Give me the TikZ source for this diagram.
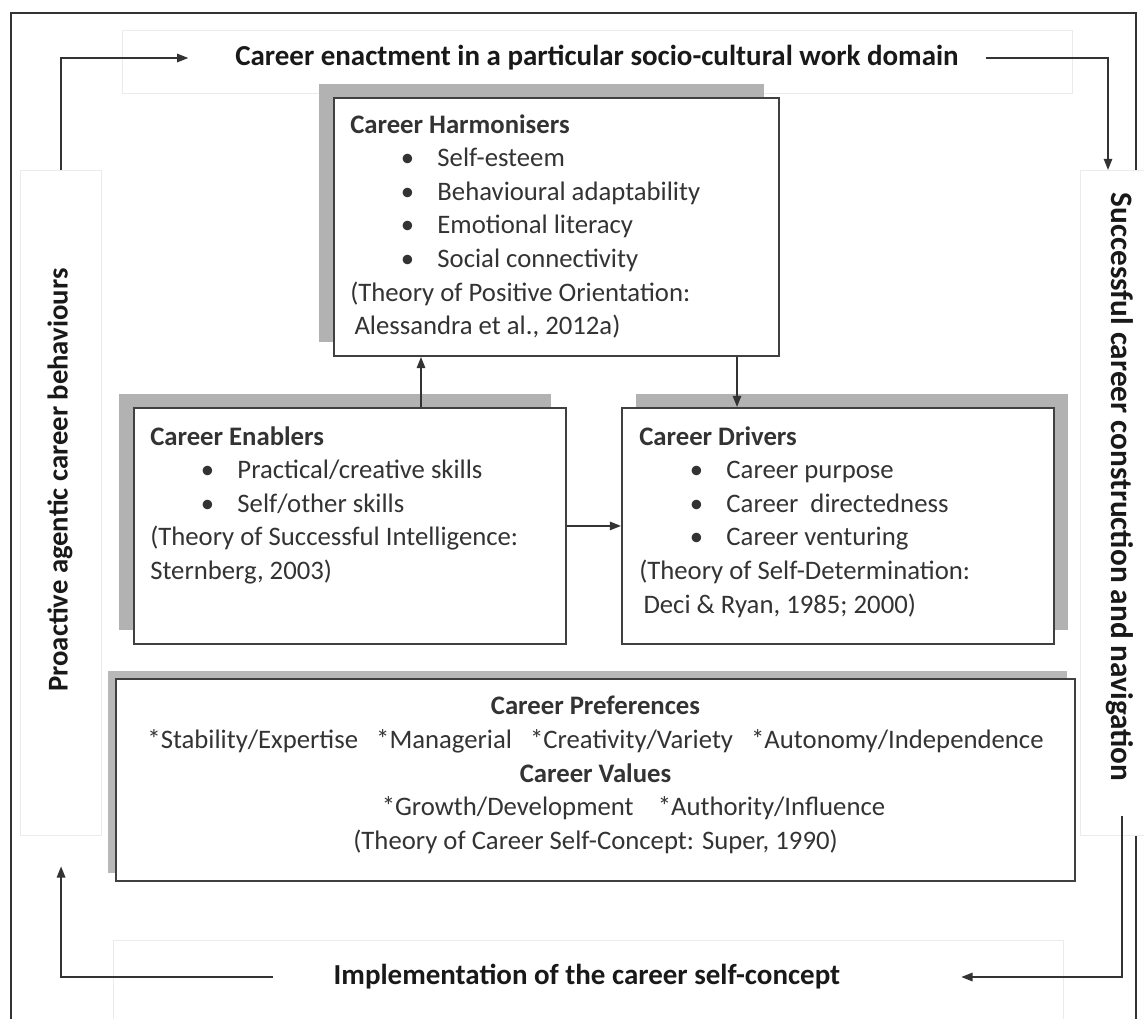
\documentclass[tikz,border=0pt]{standalone}
\usepackage{fontspec}
\setmainfont{Carlito}
\usetikzlibrary{positioning,arrows.meta,shadows,calc}

\newcommand{\bul}[1]{\hspace*{36pt}\makebox[26pt][l]{\textbullet}#1}

\begin{document}
\begin{tikzpicture}[
  x=0.025cm, y=-0.025cm,
  font=\fontsize{19}{23.9}\selectfont,
  card/.style={draw=black!75, line width=1.3pt, fill=white, anchor=north west,
               inner sep=0pt},
  shadowL/.style={drop shadow={shadow xshift=-0.37cm, shadow yshift=0.35cm,
                  fill=black!30, opacity=1}},
  shadowR/.style={drop shadow={shadow xshift=0.35cm, shadow yshift=0.35cm,
                  fill=black!30, opacity=1}},
  note/.style={anchor=north west, align=left, inner sep=0pt, text=black!80},
  faint/.style={draw=black!8, line width=0.8pt, fill=white, anchor=north west,
                inner sep=0pt},
  side/.style={text=black!90},
  arr/.style={-{Triangle[length=8pt,width=6pt]}, line width=1.2pt, draw=black!80}
]
  \useasboundingbox (0,0) rectangle (1144,1019);

  % outer frame, open at the bottom
  \draw[black!80, line width=1.2pt] (11,1040) -- (11,13) -- (1136,13) -- (1136,1040);

  % faint text boxes round the border labels
  \node[faint, minimum width=23.75cm, minimum height=1.575cm] (enact) at (122,30) {};
  \node[faint, minimum width=2.025cm, minimum height=16.625cm] (proact) at (20,170) {};
  \node[faint, minimum width=2cm, minimum height=16.625cm] (succ) at (1080,170) {};
  \node[faint, minimum width=23.75cm, minimum height=2.5cm] (impl) at (113,940) {};

  \node[side, font=\fontsize{20.6}{24}\selectfont\bfseries] (enact-txt) at (597,58)
    {Career enactment in a particular socio-cultural work domain};
  \node[side, rotate=90, font=\fontsize{20.4}{24}\selectfont\bfseries] (proact-txt) at (60,480)
    {Proactive agentic career behaviours};
  \node[side, rotate=-90, font=\fontsize{22.2}{26}\selectfont\bfseries] (succ-txt) at (1120,487)
    {Successful career construction and navigation};
  \node[side, font=\fontsize{20.6}{24}\selectfont\bfseries] (impl-txt) at (587,977)
    {Implementation of the career self-concept};

  % the four boxes
  \node[card, shadowL, minimum width=11.125cm, minimum height=6.45cm] (harm) at (333,97) {};
  \node[card, shadowL, minimum width=10.8cm, minimum height=5.9cm] (enab) at (133,407) {};
  \node[card, shadowR, minimum width=10.8cm, minimum height=5.9cm] (drv) at (621,407) {};
  \node[card, drop shadow={shadow xshift=-0.2cm, shadow yshift=0.2cm, fill=black!28,
        opacity=1}, minimum width=23.975cm, minimum height=5.05cm] (pref) at (115,678) {};

  \node[note] (harm-txt) at ($(harm.north west)+(17,17)$)
    {\textbf{Career Harmonisers}\\
     \bul{Self-esteem}\\
     \bul{Behavioural adaptability}\\
     \bul{Emotional literacy}\\
     \bul{Social connectivity}\\
     (Theory of Positive Orientation:\\
     \hspace*{3pt}Alessandra et al., 2012a)};
  \node[note] (enab-txt) at ($(enab.north west)+(17,19)$)
    {\textbf{Career Enablers}\\
     \bul{Practical/creative skills}\\
     \bul{Self/other skills}\\
     (Theory of Successful Intelligence:\\
     Sternberg, 2003)};
  \node[note] (drv-txt) at ($(drv.north west)+(18,19)$)
    {\textbf{Career Drivers}\\
     \bul{Career purpose}\\
     \bul{Career\ \ directedness}\\
     \bul{Career venturing}\\
     (Theory of Self-Determination:\\
     \hspace*{3pt}Deci \& Ryan, 1985; 2000)};
  \node[note, anchor=north, align=center] (pref-txt) at ($(pref.north)+(0,18)$)
    {\textbf{Career Preferences}\\
     *Stability/Expertise\ \ \ *Managerial\ \ \ *Creativity/Variety\ \ \ *Autonomy/Independence\\
     \textbf{Career Values}\\
     \hspace*{54pt}*Growth/Development\ \ \ \ *Authority/Influence\\
     (Theory of Career Self-Concept: Super, 1990)};

  % connectors
  \coordinate (up) at (421,0);
  \coordinate (down) at (737,0);
  \coordinate (rdown) at (1108,0);
  \coordinate (rup) at (1122,0);
  \draw[arr] (enab.north -| up) -- (harm.south -| up);
  \draw[arr] (harm.south -| down) -- (drv.north -| down);
  \draw[arr] (enab.east) -- (drv.west);
  \draw[arr] (proact.north) |- ([xshift=-1.05cm]enact-txt.west);
  \draw[arr] ([xshift=0.55cm]enact-txt.east) -| (succ.north -| rdown);
  \draw[arr] ([yshift=0.5cm]succ.south -| rup) |- ([xshift=2.9cm]impl-txt.east);
  \draw[arr] ([xshift=-1.4cm]impl-txt.west) -| ([yshift=-0.75cm]proact.south);
\end{tikzpicture}
\end{document}
